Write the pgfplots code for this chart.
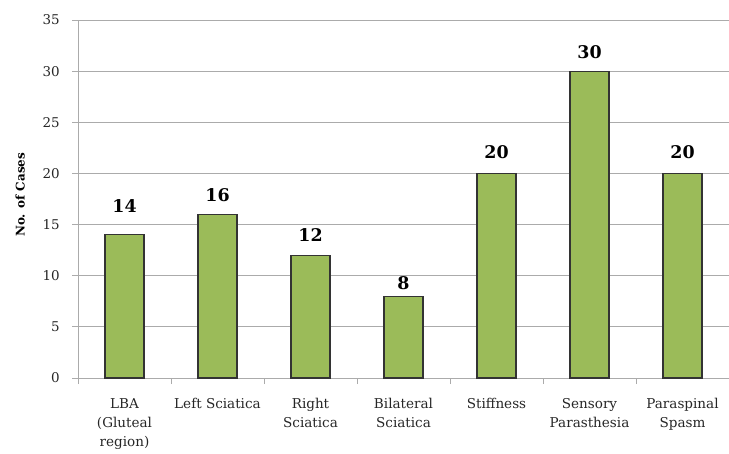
\documentclass[border=0pt]{standalone}
\usepackage{fontspec}
\setmainfont{DejaVu Serif}
\usepackage{pgfplots}
\usepackage{pgfplotstable}
\pgfplotsset{compat=1.18}
\definecolor{barfill}{HTML}{9BBB59}
\definecolor{gridgray}{HTML}{ABABAB}
% x = category index, y = cases, off = label gap above bar (bp)
\pgfplotstableread{
x y off
0 14 22
1 16 12
2 12 13
3 8 6
4 20 14
5 30 12
6 20 14
}\cases
\begin{document}
\begin{tikzpicture}
\begin{axis}[
  at={(0,0)}, anchor=south west,
  scale only axis, width=651bp, height=358bp,
  ymin=0, ymax=35, ytick={0,5,...,35},
  xmin=-0.5, xmax=6.5,
  xtick={-0.5,0.5,...,6.5},
  x tick label as interval,
  xticklabels={{LBA\\(Gluteal\\region)},{Left Sciatica},{Right\\Sciatica},{Bilateral\\Sciatica},{Stiffness},{Sensory\\Parasthesia},{Paraspinal\\Spasm}},
  axis x line*=bottom, axis y line*=left,
  axis line style={gridgray, line width=1pt, -},
  ymajorgrids, grid style={gridgray, line width=0.9pt},
  tick align=outside, major tick length=6bp,
  tick style={gridgray, line width=1pt},
  /pgf/number format/assume math mode=true,
  yticklabel style={font=\fontsize{13.5}{15}\selectfont, text=black!85, inner sep=0pt, xshift=-12bp},
  xticklabel style={font=\fontsize{13.6}{19.5}\selectfont, text=black!85, align=center, inner sep=0pt, anchor=north, yshift=-14bp},
  ylabel={\textbf{No. of Cases}},
  ylabel style={font=\fontsize{12}{14}\selectfont, at={(axis description cs:-0.089,0.512)}, anchor=center, rotate=0},
  visualization depends on={\thisrow{off} \as \labeloff},
  nodes near coords,
  nodes near coords style={font=\bfseries\fontsize{17.5}{19}\selectfont, text=black, inner sep=0pt, anchor=south, yshift=\labeloff bp},
]
\addplot[ybar, bar width=39bp, fill=barfill, draw=black!80, line width=1.2pt]
  table[x=x, y=y] {\cases};
\end{axis}
\pgfresetboundingbox
\path (-78bp,-76bp) rectangle (651bp,378bp);
\end{tikzpicture}
\end{document}
